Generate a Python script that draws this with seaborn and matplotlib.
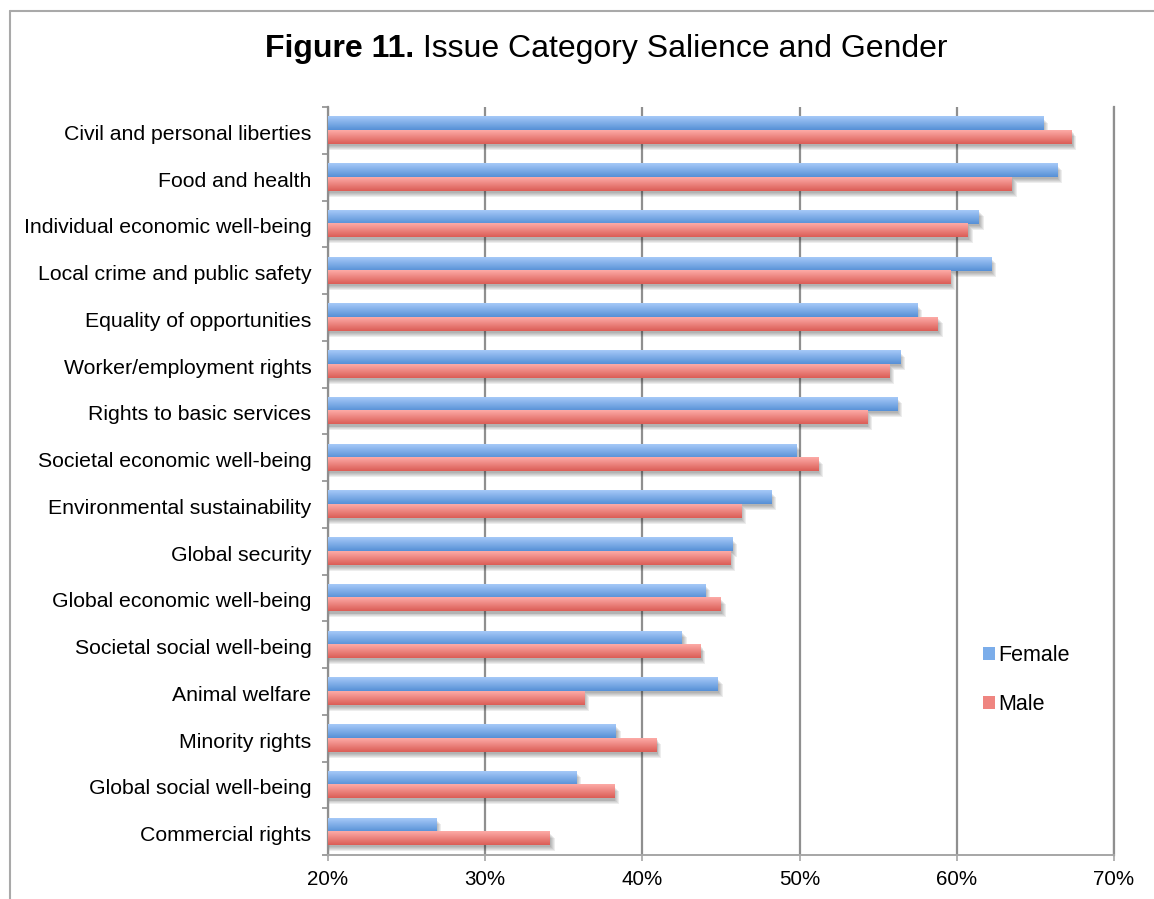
import numpy as np
import pandas as pd
import matplotlib
matplotlib.use("Agg")
import matplotlib.pyplot as plt
import seaborn as sns
from matplotlib import patheffects as pe
from matplotlib.colors import to_rgb
from matplotlib.patches import Patch
from matplotlib.lines import Line2D
from matplotlib.ticker import FixedLocator, FuncFormatter
from matplotlib.transforms import ScaledTranslation

# Share of respondents naming each issue category, by gender (%)
categories = [
    "Civil and personal liberties",
    "Food and health",
    "Individual economic well-being",
    "Local crime and public safety",
    "Equality of opportunities",
    "Worker/employment rights",
    "Rights to basic services",
    "Societal economic well-being",
    "Environmental sustainability",
    "Global security",
    "Global economic well-being",
    "Societal social well-being",
    "Animal welfare",
    "Minority rights",
    "Global social well-being",
    "Commercial rights",
]
female = [65.5, 66.4, 61.4, 62.2, 57.5, 56.4, 56.2, 49.8,
          48.2, 45.7, 44.0, 42.5, 44.8, 38.3, 35.8, 26.9]
male = [67.3, 63.5, 60.7, 59.6, 58.8, 55.7, 54.3, 51.2,
        46.3, 45.6, 45.0, 43.7, 36.3, 40.9, 38.2, 34.1]
genders = ["Female", "Male"]
x_ticks = [20, 30, 40, 50, 60, 70]

sns.set_theme(style="white")
plt.rcParams["font.family"] = ["Liberation Sans", "DejaVu Sans"]
plt.rcParams["text.color"] = "black"

df = pd.DataFrame({
    "Issue": categories * 2,
    "Share": female + male,
    "Gender": ["Female"] * len(categories) + ["Male"] * len(categories),
})

W, H = 1154, 899
fig = plt.figure(figsize=(W / 100, H / 100), dpi=100)
ax = fig.add_axes([328 / W, 1 - 855 / H, (1114 - 328) / W, (855 - 107) / H])

mid = {"Female": "#7badea", "Male": "#ef8580"}
grad = {"Female": ("#a6c9f8", "#5690d6"), "Male": ("#fdaba7", "#db5d56")}

sns.barplot(data=df, y="Issue", x="Share", hue="Gender", order=categories,
            hue_order=genders, palette=mid, orient="h", width=0.58,
            saturation=1, errorbar=None, legend=False, ax=ax,
            edgecolor="none", linewidth=0)

# soft drop shadow under every bar
shadow = [pe.SimplePatchShadow(offset=(d, -d - 0.8), shadow_rgbFace="k", alpha=0.075)
          for d in (0.7, 1.4, 2.1, 2.8, 3.5)] + [pe.Normal()]

n = 64
for cont, g in zip(ax.containers, genders):
    top, bot = np.array(to_rgb(grad[g][0])), np.array(to_rgb(grad[g][1]))
    t = np.linspace(0, 1, n)[:, None]
    ramp = (top * (1 - t) + bot * t)[:, None, :]
    for bar in cont:
        bar.set_zorder(2)
        bar.set_path_effects(shadow)
        x0, y0 = bar.get_x(), bar.get_y()
        w, h = bar.get_width(), bar.get_height()
        ax.imshow(ramp, extent=(x0, x0 + w, y0 + h, y0), aspect="auto",
                  interpolation="bilinear", zorder=3, origin="upper")

ax.set_xlim(20, 70)
ax.set_ylim(len(categories) - 0.5, -0.5)
ax.set_xlabel("")
ax.set_ylabel("")

grid_c = "#8f8f8f"
ax.set_axisbelow(True)
ax.xaxis.grid(True, color=grid_c, linewidth=1.6, zorder=0)
ax.yaxis.grid(False)
ax.spines["top"].set_visible(False)
ax.spines["left"].set_color(grid_c)
ax.spines["left"].set_linewidth(1.6)
ax.spines["right"].set_color(grid_c)
ax.spines["right"].set_linewidth(1.6)
ax.spines["bottom"].set_color("#a6a6a6")
ax.spines["bottom"].set_linewidth(1.4)

ax.xaxis.set_major_locator(FixedLocator(x_ticks))
ax.xaxis.set_major_formatter(FuncFormatter(lambda v, p: f"{v:.0f}%"))
ax.tick_params(axis="x", which="major", bottom=True, length=4, width=1.2,
               color="#a6a6a6", labelsize=14.8, labelcolor="black", pad=7,
               direction="out")
ax.yaxis.set_minor_locator(FixedLocator(np.arange(-0.5, len(categories), 1.0)))
ax.tick_params(axis="y", which="major", left=False, length=0, labelsize=15.3,
               labelcolor="black", pad=12)
ax.tick_params(axis="y", which="minor", left=True, length=4, width=1.2,
               color=grid_c, direction="out")
# category names sit a touch below the centre of their bar pair
nudge = ScaledTranslation(0, -0.02, fig.dpi_scale_trans)
for lbl in ax.get_yticklabels():
    lbl.set_transform(lbl.get_transform() + nudge)

handles = [Patch(facecolor=mid[g], edgecolor="none", label=g) for g in genders]
ax.legend(handles=handles, loc="upper left", frameon=False,
          bbox_to_anchor=(983 / W, 1 - 645 / H), bbox_transform=fig.transFigure,
          fontsize=15.5, handlelength=0.55, handleheight=0.55, handletextpad=0.15,
          labelspacing=1.31, borderpad=0, borderaxespad=0)

# title: bold figure number followed by regular text, centred as one line
renderer = fig.canvas.get_renderer()
ty = 1 - 57 / H
t1 = fig.text(0, ty, "Figure 11.", fontsize=23, fontweight="bold", va="baseline",
              color="black")
t2 = fig.text(0, ty, " Issue Category Salience and Gender", fontsize=23,
              va="baseline", color="black")
w1 = t1.get_window_extent(renderer).width
w2 = t2.get_window_extent(renderer).width
x_start = 606 - (w1 + w2) / 2
t1.set_x(x_start / W)
t2.set_x((x_start + w1) / W)

# chart frame
fc = "#a9a9a9"
fig.add_artist(Line2D([10 / W, 1], [1 - 11 / H, 1 - 11 / H], color=fc, lw=1.5,
                      transform=fig.transFigure))
fig.add_artist(Line2D([10 / W, 10 / W], [0, 1 - 11 / H], color=fc, lw=1.5,
                      transform=fig.transFigure))

fig.savefig("out.png", dpi=100, facecolor="white")
